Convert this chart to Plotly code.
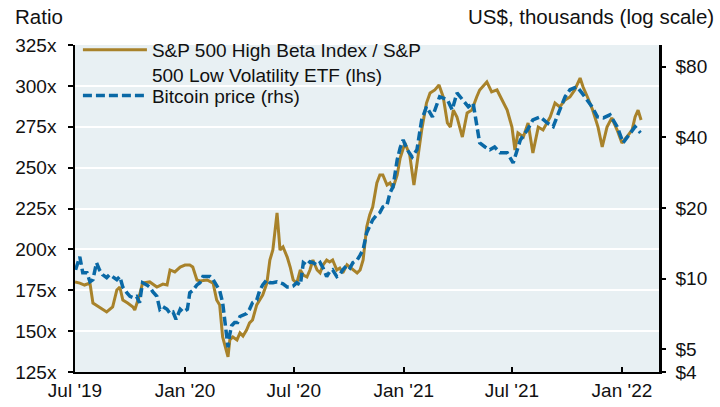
import plotly.graph_objects as go

# S&P 500 High Beta / Low Volatility ratio (lhs)
ratio_dates = [
    "2019-07-01", "2019-07-09", "2019-07-17", "2019-07-26", "2019-07-31", "2019-08-11", "2019-08-23", "2019-09-02",
    "2019-09-09", "2019-09-14", "2019-09-19", "2019-09-27", "2019-10-06", "2019-10-09", "2019-10-17", "2019-10-22",
    "2019-11-03", "2019-11-15", "2019-11-25", "2019-12-02", "2019-12-07", "2019-12-15", "2019-12-24", "2020-01-01",
    "2020-01-09", "2020-01-14", "2020-01-21", "2020-01-26", "2020-02-07", "2020-02-17", "2020-02-23", "2020-02-28",
    "2020-03-04", "2020-03-13", "2020-03-16", "2020-03-21", "2020-03-28", "2020-04-02", "2020-04-07", "2020-04-13",
    "2020-04-18", "2020-04-23", "2020-04-30", "2020-05-05", "2020-05-10", "2020-05-17", "2020-05-22", "2020-05-27",
    "2020-06-03", "2020-06-08", "2020-06-13", "2020-06-20", "2020-06-25", "2020-06-30", "2020-07-06", "2020-07-12",
    "2020-07-17", "2020-07-23", "2020-07-28", "2020-08-02", "2020-08-09", "2020-08-14", "2020-08-19", "2020-08-25",
    "2020-08-30", "2020-09-04", "2020-09-11", "2020-09-16", "2020-09-21", "2020-09-28", "2020-10-03", "2020-10-08",
    "2020-10-15", "2020-10-20", "2020-10-25", "2020-10-31", "2020-11-05", "2020-11-10", "2020-11-17", "2020-11-22",
    "2020-11-27", "2020-12-04", "2020-12-09", "2020-12-14", "2020-12-21", "2020-12-26", "2021-01-03", "2021-01-11",
    "2021-01-18", "2021-01-24", "2021-01-31", "2021-02-08", "2021-02-14", "2021-02-22", "2021-03-01", "2021-03-08",
    "2021-03-15", "2021-03-20", "2021-03-25", "2021-03-31", "2021-04-09", "2021-04-17", "2021-04-25", "2021-05-03",
    "2021-05-08", "2021-05-20", "2021-05-28", "2021-06-06", "2021-06-14", "2021-06-23", "2021-07-01", "2021-07-06",
    "2021-07-11", "2021-07-20", "2021-07-28", "2021-08-05", "2021-08-14", "2021-08-22", "2021-09-03", "2021-09-11",
    "2021-09-19", "2021-09-28", "2021-10-06", "2021-10-14", "2021-10-23", "2021-10-28", "2021-11-05", "2021-11-13",
    "2021-11-22", "2021-11-29", "2021-12-07", "2021-12-15", "2021-12-24", "2022-01-01", "2022-01-09", "2022-01-18",
    "2022-01-23", "2022-01-28", "2022-02-02",
]
ratio = [
    180.1, 179.4, 178.2, 179.4, 167.2, 164.8, 161.7, 164.8,
    175.2, 177.0, 169.0, 167.2, 164.8, 162.9, 172.1, 179.4,
    180.1, 177.0, 178.8, 178.2, 187.4, 186.2, 189.2, 190.4,
    190.4, 189.2, 181.3, 180.7, 181.3, 179.4, 169.0, 166.0,
    146.4, 134.2, 144.6, 146.4, 144.6, 148.9, 147.0, 150.7,
    155.0, 156.8, 166.0, 169.0, 172.1, 179.4, 193.5, 199.6,
    222.3, 199.6, 201.5, 195.3, 189.2, 181.3, 179.4, 187.4,
    184.3, 183.1, 187.4, 193.5, 187.4, 185.6, 190.5, 193.5,
    192.3, 193.5, 187.4, 188.6, 185.6, 190.5, 189.2, 187.4,
    185.6, 187.4, 193.5, 213.7, 221.0, 225.9, 240.6, 245.5,
    245.5, 239.4, 240.6, 237.5, 245.5, 255.9, 265.1, 257.7,
    239.4, 254.7, 273.0, 289.5, 295.6, 297.5, 300.5, 293.2,
    277.3, 274.8, 285.2, 281.0, 268.7, 283.4, 285.2, 293.2,
    297.5, 302.4, 296.3, 297.5, 291.4, 285.2, 274.8, 260.8,
    271.2, 268.7, 277.3, 258.9, 274.8, 273.0, 281.0, 289.5,
    287.1, 291.4, 293.2, 297.5, 304.8, 299.3, 292.6, 285.2,
    274.8, 262.6, 274.8, 280.4, 273.0, 265.1, 268.7, 273.0,
    281.0, 285.2, 279.1,
]

# Bitcoin price, US$ thousands (rhs)
btc_dates = [
    "2019-07-02", "2019-07-09", "2019-07-14", "2019-07-21", "2019-07-26", "2019-07-31", "2019-08-06", "2019-08-11",
    "2019-08-16", "2019-08-23", "2019-08-28", "2019-09-02", "2019-09-09", "2019-09-14", "2019-09-19", "2019-09-26",
    "2019-10-01", "2019-10-06", "2019-10-12", "2019-10-17", "2019-10-22", "2019-10-29", "2019-11-03", "2019-11-08",
    "2019-11-15", "2019-11-20", "2019-11-25", "2019-12-02", "2019-12-07", "2019-12-12", "2019-12-17", "2019-12-24",
    "2019-12-29", "2020-01-05", "2020-01-09", "2020-01-14", "2020-01-21", "2020-01-26", "2020-01-31", "2020-02-07",
    "2020-02-12", "2020-02-17", "2020-02-23", "2020-02-28", "2020-03-04", "2020-03-09", "2020-03-13", "2020-03-16",
    "2020-03-19", "2020-03-24", "2020-03-29", "2020-04-02", "2020-04-07", "2020-04-13", "2020-04-18", "2020-04-23",
    "2020-04-30", "2020-05-05", "2020-05-10", "2020-05-17", "2020-05-22", "2020-05-27", "2020-06-03", "2020-06-08",
    "2020-06-13", "2020-06-20", "2020-06-25", "2020-06-30", "2020-07-06", "2020-07-12", "2020-07-17", "2020-07-23",
    "2020-07-28", "2020-08-02", "2020-08-09", "2020-08-14", "2020-08-19", "2020-08-25", "2020-08-30", "2020-09-04",
    "2020-09-11", "2020-09-16", "2020-09-21", "2020-09-28", "2020-10-03", "2020-10-08", "2020-10-15", "2020-10-20",
    "2020-10-25", "2020-10-31", "2020-11-05", "2020-11-10", "2020-11-17", "2020-11-22", "2020-11-27", "2020-12-04",
    "2020-12-09", "2020-12-14", "2020-12-21", "2020-12-26", "2020-12-31", "2021-01-07", "2021-01-15", "2021-01-23",
    "2021-01-31", "2021-02-08", "2021-02-18", "2021-03-02", "2021-03-15", "2021-03-23", "2021-03-31", "2021-04-09",
    "2021-04-19", "2021-04-27", "2021-05-03", "2021-05-08", "2021-05-17", "2021-05-25", "2021-06-02", "2021-06-11",
    "2021-06-23", "2021-07-03", "2021-07-15", "2021-07-27", "2021-08-05", "2021-08-17", "2021-08-29", "2021-09-08",
    "2021-09-19", "2021-09-28", "2021-10-06", "2021-10-18", "2021-10-26", "2021-11-04", "2021-11-12", "2021-11-21",
    "2021-12-01", "2021-12-12", "2021-12-24", "2022-01-03", "2022-01-11", "2022-01-23", "2022-02-01",
]
bitcoin = [
    10.9, 12.4, 10.6, 10.6, 9.7, 9.9, 11.7, 10.9,
    10.4, 10.1, 10.4, 10.2, 9.9, 10.2, 9.2, 8.7,
    8.4, 8.3, 8.4, 7.9, 9.6, 9.4, 9.2, 8.8,
    8.4, 7.4, 7.6, 7.4, 7.1, 7.2, 6.7, 7.4,
    7.2, 7.4, 8.7, 8.9, 9.4, 9.6, 10.2, 10.2,
    10.2, 9.9, 9.4, 8.9, 7.9, 6.0, 5.1, 5.8,
    6.3, 6.5, 6.5, 6.9, 7.0, 7.1, 7.4, 7.9,
    8.1, 8.9, 9.4, 9.9, 9.6, 9.6, 9.7, 9.6,
    9.5, 9.2, 9.2, 9.3, 9.6, 9.4, 11.7, 11.4,
    11.8, 11.7, 11.4, 11.7, 11.1, 10.2, 10.7, 10.9,
    10.2, 10.4, 10.9, 11.4, 11.1, 11.7, 12.0, 12.6,
    13.3, 15.7, 16.9, 17.8, 18.7, 19.1, 20.2, 20.6,
    23.2, 24.6, 32.1, 36.1, 39.0, 35.4, 33.0, 35.4,
    47.5, 54.0, 48.9, 59.6, 57.8, 52.4, 61.9, 57.8,
    54.0, 56.1, 44.4, 37.9, 36.4, 35.4, 36.4, 34.4,
    34.4, 31.1, 39.0, 43.1, 47.5, 48.9, 46.1, 44.4,
    52.4, 59.6, 63.8, 65.7, 61.9, 57.8, 54.0, 48.9,
    48.4, 49.9, 44.4, 37.9, 40.2, 44.4, 41.8,
]

left_ticks = [125, 150, 175, 200, 225, 250, 275, 300, 325]
left_labels = [f"{v}x" for v in left_ticks]
right_ticks = [4, 5, 10, 20, 40, 80]
right_labels = [f"${v}" for v in right_ticks]
x_ticks = ["2019-07-01", "2020-01-01", "2020-07-01", "2021-01-01", "2021-07-01", "2022-01-01"]
x_labels = ["Jul '19", "Jan '20", "Jul '20", "Jan '21", "Jul '21", "Jan '22"]

GOLD = "#A8822A"
BLUE = "#0A69A6"
FONT = "Arial, Liberation Sans, sans-serif"
TXT = "#111111"

fig = go.Figure()
fig.add_trace(go.Scatter(
    x=ratio_dates, y=ratio, mode="lines", yaxis="y", legend="legend",
    name="S&P 500 High Beta Index / S&P<br>500 Low Volatility ETF (lhs)",
    line=dict(color=GOLD, width=3),
))
fig.add_trace(go.Scatter(
    x=btc_dates, y=bitcoin, mode="lines", yaxis="y2", legend="legend2",
    name="Bitcoin price (rhs)",
    line=dict(color=BLUE, width=3.5, dash="9px,4px"),
))

fig.update_layout(
    width=720, height=407,
    margin=dict(l=75, r=61, t=45, b=35),
    paper_bgcolor="white",
    plot_bgcolor="#E8F0F3",
    font=dict(family=FONT, size=19, color=TXT),
    showlegend=True,
    legend=dict(
        x=0.005, y=1.043, xanchor="left", yanchor="top", valign="top",
        bgcolor="rgba(0,0,0,0)", borderwidth=0,
        font=dict(size=19, family=FONT, color=TXT),
        itemwidth=64,
    ),
    legend2=dict(
        x=0.005, y=0.903, xanchor="left", yanchor="top", valign="middle",
        bgcolor="rgba(0,0,0,0)", borderwidth=0,
        font=dict(size=19, family=FONT, color=TXT),
        itemwidth=64,
    ),
    xaxis=dict(
        type="date", range=["2019-07-01", "2022-03-04"],
        tickvals=x_ticks, ticktext=x_labels, automargin=False,
        showgrid=False, zeroline=False,
        showline=True, linecolor="black", linewidth=1.5,
        ticks="inside", ticklen=5, tickcolor="black", tickwidth=1.5,
        tickfont=dict(size=19),
    ),
    yaxis=dict(
        range=[125, 325], tickvals=left_ticks, ticktext=left_labels, automargin=False,
        showgrid=True, gridcolor="white", gridwidth=2,
        zeroline=False, showline=True, linecolor="black", linewidth=1.5,
        ticks="outside", ticklen=5, tickcolor="black", tickwidth=1.5,
        tickfont=dict(size=19), ticklabelstandoff=8,
    ),
    yaxis2=dict(
        type="log", range=[0.60206, 1.9956], automargin=False,
        tickvals=right_ticks, ticktext=right_labels,
        overlaying="y", side="right",
        showgrid=False, zeroline=False,
        showline=True, linecolor="black", linewidth=2.5,
        ticks="outside", ticklen=4, tickcolor="black", tickwidth=2,
        tickfont=dict(size=19), ticklabelstandoff=6,
    ),
    annotations=[
        dict(text="Ratio", xref="paper", yref="paper", x=-0.107, y=1.086,
             xanchor="left", yanchor="middle", showarrow=False,
             font=dict(size=20.5, family=FONT, color=TXT)),
        dict(text="US$, thousands (log scale)", xref="paper", yref="paper",
             x=1.098, y=1.086, xanchor="right", yanchor="middle", showarrow=False,
             font=dict(size=20.5, family=FONT, color=TXT)),
    ],
)

# remove the default 8px page margin so the 720x407 figure fills the window
fig.write_html(
    "out.html",
    config={"displayModeBar": False},
    post_script="document.body.style.margin='0px';",
)
